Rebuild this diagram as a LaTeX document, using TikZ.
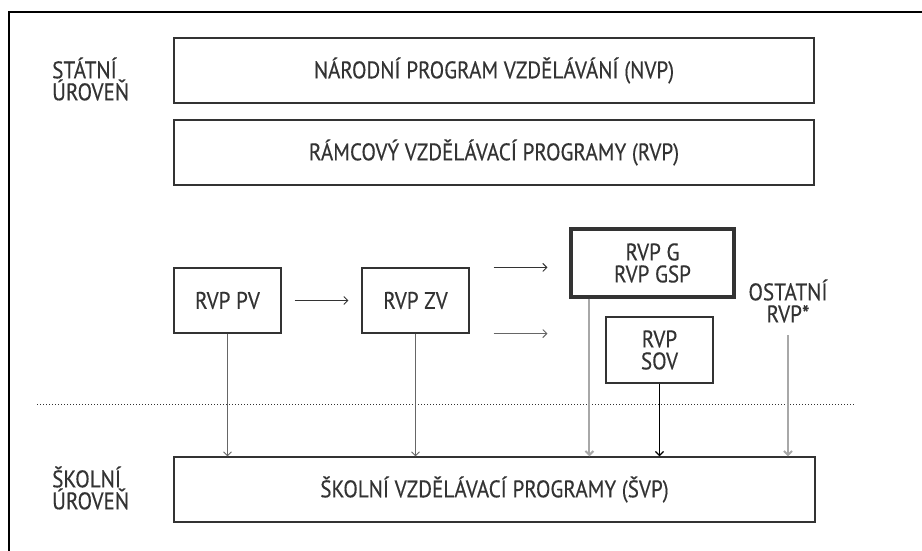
\documentclass[tikz,border=0pt]{standalone}
\usepackage{fontspec}
\setmainfont{PT Sans}[FakeStretch=0.88,FakeBold=0.35]
\usetikzlibrary{arrows.meta,calc}
\definecolor{ink}{HTML}{333333}
\definecolor{lgray}{HTML}{A8A8A8}
\definecolor{mgray}{HTML}{666666}
\tikzset{
  txt/.style={text=ink, font=\fontsize{24}{22}\selectfont, inner sep=0pt},
  box/.style={txt, draw=ink, line width=1.2pt, align=center},
  level/.style={txt, align=left, anchor=west},
  arr/.style={-{Straight Barb[length=4pt,width=8pt]}, line width=0.9pt},
}
\begin{document}
\begin{tikzpicture}[x=1pt,y=-1pt]
\useasboundingbox (0,0) rectangle (922,551);
\draw[line width=2.5pt, black] (9,551) -- (9,12) -- (922,12);

\node[level] (statni) at (52,79) {STÁTNÍ\\ÚROVEŇ};
\node[level] (skolni) at (52,488) {ŠKOLNÍ\\ÚROVEŇ};

\node[box, minimum width=640pt, minimum height=65pt] (nvp) at (494,70.5) {NÁRODNÍ PROGRAM VZDĚLÁVÁNÍ (NVP)};
\node[box, minimum width=640pt, minimum height=65pt] (rvp) at (494,152.5) {RÁMCOVÝ VZDĚLÁVACÍ PROGRAMY (RVP)};

\node[box, minimum width=107pt, minimum height=65pt] (pv) at (227.5,300.5) {RVP PV};
\node[box, minimum width=107pt, minimum height=65pt] (zv) at (415.5,300.5) {RVP ZV};
\node[box, line width=3.2pt, minimum width=163pt, minimum height=68pt] (g) at (652.5,263) {RVP G\\RVP GSP};
\node[box, minimum width=107pt, minimum height=66pt] (sov) at (659.5,350) {RVP\\SOV};
\node[txt, align=center] (ost) at (788,301) {OSTATNÍ\\RVP*};

\node[box, minimum width=641pt, minimum height=65pt] (svp) at (494.5,489.5) {ŠKOLNÍ VZDĚLÁVACÍ PROGRAMY (ŠVP)};

\coordinate (dl) at (37,404);
\coordinate (dr) at (855,404);
\draw[ink, line width=1pt, dotted] (dl) -- (dr);

\draw[arr, ink] ($(pv.east)+(13,0)$) -- ($(zv.west)+(-13,0)$);
\draw[arr, ink] ($(zv.north east)+(24,0)$) -- ($(g.west |- zv.north)+(-22,0)$);
\draw[arr, mgray] ($(zv.south east)+(24,0)$) -- ($(g.west |- zv.south)+(-22,0)$);

\draw[arr, mgray] (pv.south) -- (pv.south |- svp.north);
\draw[arr, mgray] (zv.south) -- (zv.south |- svp.north);
\draw[arr, lgray, line width=2pt] ($(g.south west)+(20,0)$) coordinate (gs) -- (gs |- svp.north);
\draw[arr, black, line width=1.3pt] (sov.south) -- (sov.south |- svp.north);
\draw[arr, lgray, line width=2pt] (788,335) coordinate (os) -- (os |- svp.north);
\end{tikzpicture}
\end{document}
